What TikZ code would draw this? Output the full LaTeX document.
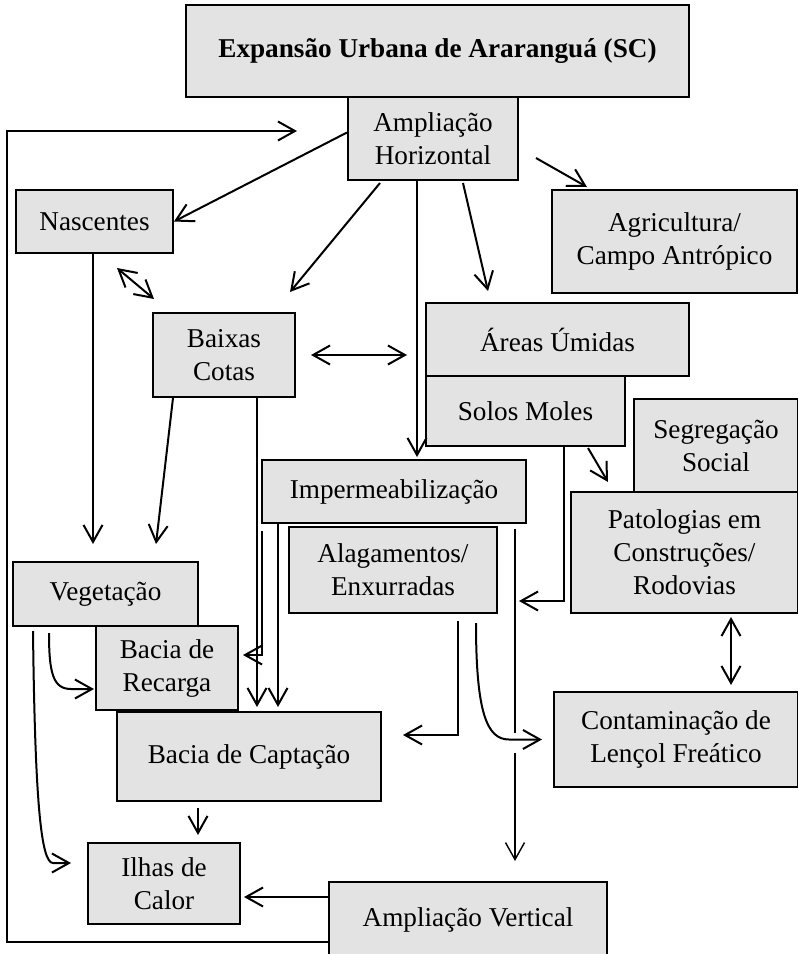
\documentclass[tikz,border=0pt]{standalone}
\usepackage{fontspec}
\setmainfont{Liberation Serif}
\usetikzlibrary{arrows.meta,calc}
\definecolor{boxgray}{RGB}{227,227,227}

\begin{document}
\begin{tikzpicture}[x=0.5pt,y=-0.5pt]
		\useasboundingbox (0,0) rectangle (798,954);
		\begin{scope}[every node/.style={draw,fill=boxgray,line width=1pt,align=center,inner sep=0pt,font=\fontsize{13.6}{16.5}\selectfont}]
			\node[minimum width=251.5pt,minimum height=46pt] (exp) at (437.5,51) {\textbf{Expansão Urbana de Araranguá (SC)}};
			\node[minimum width=85pt,minimum height=41.5pt] (ah) at (433,138.5) {Ampliação\\Horizontal};
			\node[minimum width=78.5pt,minimum height=31.5pt] (nasc) at (94.5,221.5) {Nascentes};
			\node[minimum width=122.5pt,minimum height=51.5pt] (agri) at (674.5,241.5) {Agricultura/\\Campo Antrópico};
			\node[minimum width=131.5pt,minimum height=36.5pt] (umid) at (557.5,339.5) {Áreas Úmidas};
			\node[minimum width=99.5pt,minimum height=35pt] (solos) at (525.5,411) {Solos Moles};
			\node[minimum width=82pt,minimum height=46.5pt] (segr) at (716,445.5) {Segregação\\Social};
			\node[minimum width=113.5pt,minimum height=60.5pt] (pato) at (684.5,552.5) {Patologias em\\Construções/\\Rodovias};
			\node[minimum width=71pt,minimum height=42pt] (baixas) at (224,355) {Baixas\\Cotas};
			\node[minimum width=132pt,minimum height=31.5pt] (imper) at (394,491.5) {Impermeabilização};
			\node[minimum width=104pt,minimum height=43pt] (alag) at (393,570) {Alagamentos/\\Enxurradas};
			\node[minimum width=92.5pt,minimum height=32pt] (veg) at (105.5,594) {Vegetação};
			\node[minimum width=71pt,minimum height=42pt] (recarga) at (167,668) {Bacia de\\Recarga};
			\node[minimum width=132pt,minimum height=44.5pt] (capt) at (249,756.5) {Bacia de Captação};
			\node[minimum width=76pt,minimum height=40.5pt] (ilhas) at (164,883.5) {Ilhas de\\Calor};
			\node[minimum width=139pt,minimum height=38pt] (vert) at (468,920) {Ampliação Vertical};
			\node[minimum width=122pt,minimum height=47.5pt] (cont) at (676,739.5) {Contaminação de\\Lençol Freático};
		\end{scope}

		\begin{scope}[line width=1pt,>={Straight Barb[length=8.5pt,width=9.5pt]}]
			% Ampliação Horizontal
			\draw[->] ($(ah.west)+(0,-6)$) -- (nasc.east);
			\draw[->] ($(ah.south)+(-53,2)$) -- ($(baixas.north)+(66,-20)$);
			\draw[->] ($(ah.south)+(30,2)$) -- ($(umid.north)+(-69.5,-11)$);
			\draw[->] ($(ah.east)+(17,19.5)$) -- ($(agri.north)+(-87.5,-2)$);
			\coordinate (hz) at ($(ah.south)+(-16,0)$);
			\draw[->,shorten >=1pt] (hz) -- (hz |- imper.north);

			% Nascentes, Baixas Cotas
			\draw[<->] ($(nasc.south)+(22.5,14)$) -- ($(baixas.north west)+(2,-13)$);
			\draw[->] ($(nasc.south)+(-1.5,0)$) -- ($(veg.north)+(-12.5,-17)$);
			\draw[->] ($(baixas.south)+(-51,0)$) -- ($(veg.north)+(50.5,-17)$);
			\draw[<->,shorten <=7.5pt,shorten >=9pt] (baixas.east) -- (baixas.east -| umid.west);
			\coordinate (bc) at ($(baixas.south)+(33,0)$);
			\draw[->,shorten >=2pt] (bc) -- (bc |- capt.north);

			% Impermeabilização
			\draw[->] ($(imper.south west)+(1,7)$) |- ($(recarga.east)+(4,-13)$);
			\coordinate (ic) at ($(imper.south west)+(17,0)$);
			\draw[->,shorten >=2pt] (ic) -- (ic |- capt.north);
			\coordinate (iv) at ($(imper.south east)+(-12,5)$);
			\draw[line width=0.7pt] (iv) -- ++(0,204);
			\draw[->,line width=0.7pt,shorten >=10pt] ($(iv)+(0,224)$) -- (iv |- vert.north);

			% Solos Moles
			\draw[->] ($(solos.south)+(62.5,1)$) -- ($(pato.north)+(-76.5,-9)$);
			\draw[->] ($(solos.south)+(38.5,0)$) |- ($(iv)+(4,72)$);

			% Alagamentos
			\draw[->] ($(alag.south)+(65,7)$) |- ($(capt.east)+(21,-21.5)$);
			\draw[->] ($(alag.south)+(83,9)$) .. controls +(0,90) and +(-22,0) .. ($(cont.west)+(-44,0)$) -- ($(cont.west)+(-11,0)$);

			% Patologias <-> Contaminação
			\coordinate (pc) at ($(pato.south)+(46.5,0)$);
			\draw[<->,shorten <=1.5pt,shorten >=3pt] (pc) -- (pc |- cont.north);

			% Vegetação
			\draw[->] ($(veg.south)+(-56.5,6)$) .. controls +(0,40) and +(-18,0) .. ($(recarga.west)+(-24,21)$) -- ($(recarga.west)+(-1,21)$);
			\draw[->] ($(veg.south)+(-72.5,4)$) .. controls +(2,170) and +(-12,0) .. ($(ilhas.west)+(-34,-20.5)$) -- ($(ilhas.west)+(-16,-20.5)$);

			% Bacia de Captação, Ampliação Vertical
			\coordinate (ci) at ($(capt.south)+(-51,6)$);
			\draw[->,shorten >=3.5pt] (ci) -- (ci |- ilhas.north);
			\draw[->] ($(vert.west)+(0,-23)$) -- ($(ilhas.east)+(3,13.5)$);
			\coordinate (lp) at (7,131);
			\draw[->] ($(vert.west)+(0,22)$) -| (lp) -- ($(ah.west)+(-50,-7.5)$);
		\end{scope}
	\end{tikzpicture}
\end{document}
